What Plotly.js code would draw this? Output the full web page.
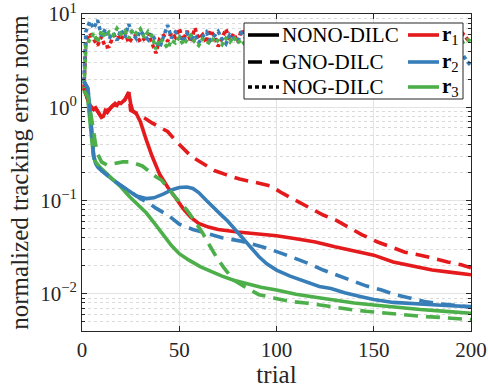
<!DOCTYPE html>
<html><head><meta charset="utf-8">
<script src="https://cdn.plot.ly/plotly-3.0.1.min.js"></script>
<style>html,body{margin:0;padding:0;background:#fff}</style>
</head><body><div id="chart" style="width:488px;height:388px"></div>
<script>
// ---- data ----
var nonoR1_t = [1,2,3,4,5,6,7,8,9,10,11,12,13,14,15,16,17,18,19,20,21,22,23,24,25,26,28,30,33,36,40,44,48,52,56,60,65,70,80,90,100,110,120,130,140,150,160,170,180,190,200];
var nonoR1_v = [1.6,1.4,1.2,1.05,1.0,0.95,0.98,0.9,0.82,0.78,0.8,0.92,0.88,0.95,1.0,1.05,1.1,1.05,1.12,1.1,1.15,1.2,1.3,1.45,1.1,0.92,0.85,0.7,0.45,0.3,0.19,0.14,0.108,0.082,0.066,0.057,0.052,0.049,0.046,0.044,0.042,0.039,0.036,0.032,0.029,0.026,0.022,0.020,0.018,0.017,0.016];

var gnoR1_t = [1,2,3,4,5,6,7,8,9,10,12,14,16,18,20,22,24,25,30,36,44,49,56,61,68,74,81,90,97,103,110,117,124,131,138,144,152,159,166,174,180,188,195,200];
var gnoR1_v = [1.6,1.4,1.2,1.05,1.0,0.95,0.98,0.9,0.82,0.78,0.92,0.95,1.05,1.05,1.1,1.2,1.45,0.93,0.82,0.68,0.55,0.42,0.30,0.26,0.21,0.19,0.17,0.155,0.143,0.12,0.10,0.085,0.07,0.061,0.051,0.043,0.036,0.032,0.028,0.026,0.024,0.022,0.0205,0.019];

var nonoR2_t = [1,2,3,4,5,6,7,8,10,13,16,20,24.5,28,33,37,42,46,50,54,57,60,64,67.5,71,75,79,83,87,91,95,100,107,114,122,128,135,143,150,160,174,187,200];
var nonoR2_v = [1.9,1.75,1.6,1.0,0.5,0.3,0.25,0.23,0.21,0.185,0.166,0.145,0.124,0.112,0.105,0.107,0.118,0.13,0.138,0.14,0.135,0.122,0.1,0.086,0.072,0.06,0.048,0.038,0.031,0.025,0.021,0.018,0.0155,0.0138,0.012,0.0114,0.0103,0.0094,0.0087,0.0081,0.0077,0.0075,0.0073];

var gnoR2_t = [1,2,3,4,5,6,7,8,10,13,16,20,24.5,28,30,34,38,45,50,57,66,72,81,88,95,103,110,117,124,132,139,146,154,161,169,176,185,192,200];
var gnoR2_v = [1.9,1.75,1.6,1.0,0.5,0.3,0.25,0.23,0.21,0.185,0.166,0.145,0.124,0.112,0.105,0.095,0.083,0.068,0.056,0.049,0.043,0.040,0.037,0.034,0.031,0.027,0.024,0.021,0.018,0.0155,0.0138,0.0122,0.011,0.0098,0.009,0.0083,0.0078,0.0075,0.0072];

var nonoR3_t = [1,2,3,4,5,6,7,9,12,16,20,24.5,29,33,37,42,46,50,55,61,67,72,78,85,92,100,110,120,127.5,140,150,160,174,187,200];
var nonoR3_v = [1.5,1.4,1.2,0.8,0.45,0.29,0.26,0.23,0.2,0.17,0.14,0.11,0.09,0.074,0.058,0.042,0.033,0.027,0.023,0.0195,0.017,0.0155,0.014,0.0128,0.0118,0.011,0.0099,0.0092,0.0087,0.008,0.0076,0.0072,0.0068,0.0065,0.0062];

var gnoR3_t = [1,2,3,4,5,6,7,8,9,10,13,17,21,25,28,31,34,38,41,44,47,50,54,58,62,66,69,73,78,84,91,99,107,115,122,130,138,146,153,161,169,177,184,192,200];
var gnoR3_v = [1.5,1.4,1.3,1.0,0.7,0.5,0.4,0.32,0.28,0.26,0.24,0.25,0.26,0.26,0.25,0.235,0.21,0.18,0.165,0.14,0.115,0.097,0.079,0.06,0.045,0.032,0.025,0.019,0.014,0.0118,0.0098,0.009,0.0083,0.008,0.0076,0.0071,0.0068,0.0065,0.0063,0.006,0.0059,0.0057,0.0056,0.0054,0.0053];

// NOG-DILC: first value at trial 1, then trials 2,4,...,200
var nogR1_v = [1.6,5.0,6.2,5.3,4.6,5.7,4.4,4.5,5.8,6.1,5.2,6.4,4.9,5.6,6.0,5.0,5.4,6.2,4.8,3.8,5.5,5.9,5.1,6.3,5.6,7.0,5.2,6.6,5.0,7.1,5.4,6.0,4.9,6.7,5.8,4.5,5.5,6.9,5.3,6.2,5.0,6.8,5.5,4.7,6.1,5.4,6.6,5.0,5.8,4.6,6.3,5.6,5.1,6.0,5.3,4.8,5.9,5.4,6.2,5.0,5.6,6.1,5.2,4.9,5.7,6.0,5.1,5.5,4.8,5.9,5.3,6.1,5.0,5.6,5.2,4.7,5.8,5.4,6.0,5.1,4.9,5.6,5.3,5.9,5.0,5.5,4.8,5.7,5.2,5.4,6.0,5.1,4.9,5.6,5.3,5.8,5.0,5.5,6.1,5.4,5.0];
var nogR2_v = [1.9,6.5,8.3,7.0,8.6,5.8,6.9,5.5,6.3,5.2,6.8,5.6,7.8,6.1,5.4,6.6,5.9,5.3,6.2,5.0,4.4,6.0,7.6,5.5,6.4,5.8,5.1,6.2,5.5,6.0,4.9,5.7,6.4,5.2,5.9,6.5,5.4,4.8,6.0,5.6,5.1,6.3,5.8,5.3,6.1,5.0,5.7,6.2,5.4,5.9,5.2,4.9,6.0,5.5,5.8,5.1,6.3,5.6,5.2,5.9,5.4,6.1,5.7,5.0,5.5,6.2,5.3,5.8,5.1,5.6,6.0,5.4,4.9,5.7,5.3,6.3,5.5,5.0,5.8,5.4,6.1,5.6,5.2,5.9,5.4,5.0,5.7,5.3,5.9,5.1,5.6,5.2,5.5,4.9,5.4,5.0,4.6,4.2,3.6,3.1,2.8];
var nogR3_v = [1.5,4.6,5.3,6.2,5.0,6.6,5.7,6.4,5.9,7.0,6.1,6.6,5.5,6.8,6.2,6.9,5.6,6.5,5.8,4.2,5.4,5.0,4.3,5.2,4.9,5.6,4.7,5.3,5.9,5.0,4.6,5.4,5.1,4.8,5.6,5.2,4.7,5.5,5.0,5.7,4.9,5.3,4.6,5.1,5.5,4.8,5.2,5.6,4.9,5.3,5.0,4.7,5.4,5.1,4.8,5.5,5.0,5.2,4.7,5.4,4.9,5.3,5.0,4.6,5.2,5.5,4.8,5.1,5.4,4.9,5.2,4.7,5.3,5.0,4.8,5.4,5.1,4.9,5.3,4.7,5.0,5.2,4.8,5.1,4.9,5.3,5.0,4.7,5.2,4.9,5.1,4.8,5.0,5.3,4.9,5.1,4.8,5.2,5.0,5.3,5.1];

var xTicks = [0,50,100,150,200];
var yTicks = [0.01,0.1,1,10];
var yTickText = ['10<sup>−2</sup>','10<sup>−1</sup>','10<sup>0</sup>','10<sup>1</sup>'];
var yMinor = [0.004,0.005,0.006,0.007,0.008,0.009,0.02,0.03,0.04,0.05,0.06,0.07,0.08,0.09,0.2,0.3,0.4,0.5,0.6,0.7,0.8,0.9,2,3,4,5,6,7,8,9];
var methodNames = ['NONO-DILC','GNO-DILC','NOG-DILC'];
var refNames = ['<b>r</b><sub>1</sub>','<b>r</b><sub>2</sub>','<b>r</b><sub>3</sub>'];

// ---- styles ----
var C = ['#E41A1C','#377EB8','#4DAF4A'];
var LW = 3.6;
var DASH = '14px,8px';
var DOT = '4px,3px';
function nogTrials(v){ return v.map(function(_,i){ return i===0 ? 1 : 2*i; }); }

var traces = [];
function tr(x,y,color,dash){ return {x:x,y:y,type:'scatter',mode:'lines',showlegend:false,hoverinfo:'skip',line:{color:color,width:LW,dash:dash}}; }
traces.push(tr(nogTrials(nogR1_v),nogR1_v,C[0],DOT));
traces.push(tr(nogTrials(nogR2_v),nogR2_v,C[1],DOT));
traces.push(tr(nogTrials(nogR3_v),nogR3_v,C[2],DOT));
traces.push(tr(nonoR1_t,nonoR1_v,C[0],'solid'));
traces.push(tr(nonoR2_t,nonoR2_v,C[1],'solid'));
traces.push(tr(nonoR3_t,nonoR3_v,C[2],'solid'));
traces.push(tr(gnoR1_t,gnoR1_v,C[0],DASH));
traces.push(tr(gnoR2_t,gnoR2_v,C[1],DASH));
traces.push(tr(gnoR3_t,gnoR3_v,C[2],DASH));

var FONT = 'Liberation Serif, DejaVu Serif, serif';
var axisCol = '#262626';
var L=82, R=471, T=14, B=331;
function px2x(p){ return (p-L)/(R-L); }
function px2y(p){ return (B-p)/(B-T); }

// legend drawn as a boxed key (shapes + text)
var styles = ['solid',DASH,DOT];
var rowY = [35,62,87];
var shapes = [{type:'rect', xref:'paper', yref:'paper', x0:px2x(244), x1:px2x(463), y0:px2y(99), y1:px2y(23),
    line:{color:axisCol,width:1}, fillcolor:'#fff', layer:'above'}];
var annotations = [];
for (var i=0;i<3;i++){
  shapes.push({type:'line', xref:'paper', yref:'paper', x0:px2x(248), x1:px2x(279), y0:px2y(rowY[i]), y1:px2y(rowY[i]),
    line:{color:'#000', width:LW, dash:styles[i]}, layer:'above'});
  annotations.push({xref:'paper', yref:'paper', x:px2x(280), y:px2y(rowY[i]), xanchor:'left', yanchor:'middle', showarrow:false,
    text:methodNames[i], font:{family:FONT,size:21,color:'#000'}});
  shapes.push({type:'line', xref:'paper', yref:'paper', x0:px2x(408), x1:px2x(439), y0:px2y(rowY[i]), y1:px2y(rowY[i]),
    line:{color:C[i], width:LW}, layer:'above'});
  annotations.push({xref:'paper', yref:'paper', x:px2x(440), y:px2y(rowY[i]), xanchor:'left', yanchor:'middle', showarrow:false,
    text:refNames[i], font:{family:FONT,size:21,color:'#000'}});
}

var layout = {
  width:488, height:388,
  margin:{l:L, r:488-R, t:T, b:388-B, pad:0},
  paper_bgcolor:'#fff', plot_bgcolor:'#fff',
  font:{family:FONT, size:21, color:axisCol},
  showlegend:false,
  xaxis:{range:[0,200], tickvals:xTicks, ticktext:xTicks.map(String), ticks:'inside', ticklen:5, tickcolor:axisCol,
    showline:true, mirror:'ticks', linecolor:axisCol, linewidth:1, showgrid:true, gridcolor:'#e3e3e3', gridwidth:1, zeroline:false,
    tickfont:{family:FONT,size:21,color:axisCol}, ticklabeloverflow:'allow',
    title:{text:'trial', font:{family:FONT,size:25,color:axisCol}, standoff:5}, automargin:false},
  yaxis:{type:'log', range:[Math.log10(0.004),1], tickvals:yTicks, ticktext:yTickText, ticks:'inside', ticklen:5, tickcolor:axisCol,
    showline:true, mirror:'ticks', linecolor:axisCol, linewidth:1, showgrid:true, gridcolor:'#e3e3e3', gridwidth:1, zeroline:false,
    tickfont:{family:FONT,size:21,color:axisCol}, ticklabeloverflow:'allow',
    minor:{tickvals:yMinor, ticks:'inside', ticklen:3, tickcolor:axisCol, showgrid:true, gridcolor:'#dadada', griddash:'dot', gridwidth:1},
    title:{text:'normalized tracking error norm', font:{family:FONT,size:25,color:axisCol}, standoff:4}, automargin:false},
  shapes:shapes,
  annotations:annotations
};

Plotly.newPlot('chart', traces, layout, {displayModeBar:false, staticPlot:true});
</script>
</body></html>
